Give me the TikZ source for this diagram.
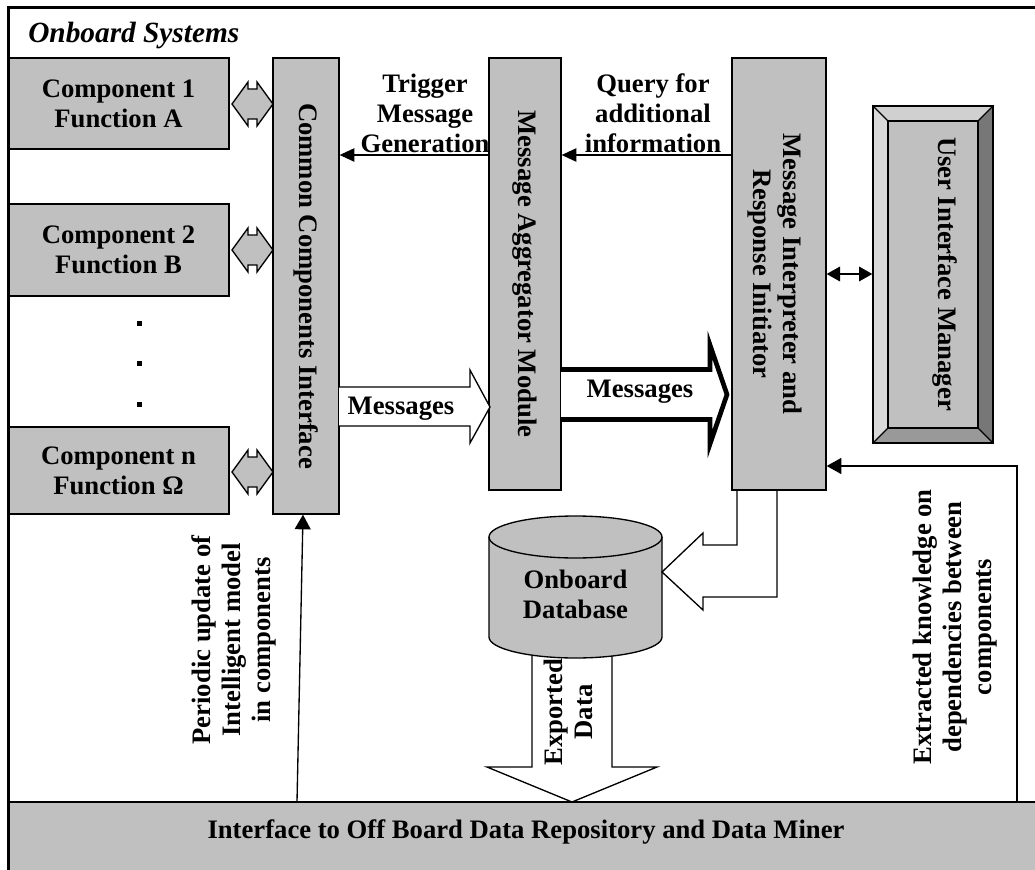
\documentclass[tikz,border=0pt]{standalone}
\usepackage{fontspec}
\setmainfont{Liberation Serif}
\usetikzlibrary{arrows.meta,calc}
\definecolor{boxgray}{HTML}{C0C0C0}
\definecolor{bevtop}{HTML}{D0D0D0}
\definecolor{bevleft}{HTML}{D9D9D9}
\definecolor{bevright}{HTML}{777777}
\definecolor{bevbot}{HTML}{999999}
\begin{document}
\begin{tikzpicture}[x=0.75pt,y=-0.75pt,
  font=\bfseries\fontsize{20}{22.5}\selectfont,
  box/.style={draw, line width=1pt, fill=boxgray, inner sep=0pt, align=center},
  sz/.style 2 args={minimum width=#1*0.75pt, minimum height=#2*0.75pt},
  lbl/.style={align=center, inner sep=0pt},
  conn/.style={line width=1pt, -{Triangle[length=11pt,width=10pt]}},
  dconn/.style={line width=1pt, {Triangle[length=10pt,width=11pt]}-{Triangle[length=10pt,width=11pt]}},
  block/.style={line width=1pt, fill=white},
  dbl/.style={line width=1pt, fill=boxgray},
  dot/.style={fill=black, inner sep=0pt, sz={5}{5}}
]
\useasboundingbox (0,0) rectangle (1035,870);

% bottom bar
\node[fill=boxgray, inner sep=0pt, sz={1027}{68}, anchor=north west] (bar) at (8,802) {};
\draw[line width=1pt] (bar.north west) -- (bar.north east);
\node[lbl] (bart) at (526,832) {Interface to Off Board Data Repository and Data Miner};

% title
\node[anchor=west, inner sep=0pt, font=\bfseries\itshape\fontsize{22}{24}\selectfont] (title) at (28,35) {Onboard Systems};

% components
\node[box, sz={221}{91}] (c1) at (118.5,103.5) {Component 1\\Function A};
\node[box, sz={221}{92}] (c2) at (118.5,250) {Component 2\\Function B};
\node[box, sz={221}{87}] (cn) at (118.5,470.5) {Component n\\Function Ω};
\node[dot] (d1) at (139,323) {};
\node[dot] (d2) at (139,363) {};
\node[dot] (d3) at (139,404) {};

% main vertical boxes
\node[box, sz={66}{456}] (cci) at (306,286) {};
\node[lbl, rotate=-90] (ccit) at (cci) {Common Components Interface};
\node[box, sz={72}{432}] (mam) at (525,274) {};
\node[lbl, rotate=-90] (mamt) at (mam) {Message Aggregator Module};
\node[box, sz={94}{432}] (miri) at (779,274) {};
\node[lbl, rotate=-90] (mirit) at (775,274) {Message Interpreter and\\Response Initiator};

% user interface manager (bevelled)
\fill[bevtop] (873,106) -- (993,106) -- (978,121) -- (888,121) -- cycle;
\fill[bevleft] (873,106) -- (888,121) -- (888,428) -- (873,443) -- cycle;
\fill[bevright] (993,106) -- (993,443) -- (978,428) -- (978,121) -- cycle;
\fill[bevbot] (873,443) -- (993,443) -- (978,428) -- (888,428) -- cycle;
\node[box, sz={90}{307}] (uimin) at (933,274.5) {};
\node[draw, line width=1pt, inner sep=0pt, sz={120}{337}] (uim) at (933,274.5) {};
\draw[line width=1pt] (uim.north west) -- (uimin.north west)
  (uim.north east) -- (uimin.north east)
  (uim.south west) -- (uimin.south west)
  (uim.south east) -- (uimin.south east);
\node[lbl, rotate=-90] (uimt) at (945,274) {User Interface Manager};
\draw[dconn] (miri.east) -- (miri.east -| uim.west);

% double arrows component <-> interface
\foreach \cy in {104,250,472}{
  \draw[dbl] (232,\cy) -- (248,\cy-22) -- (248,\cy-15) -- (257,\cy-15) -- (257,\cy-22)
    -- (273,\cy) -- (257,\cy+22) -- (257,\cy+15) -- (248,\cy+15) -- (248,\cy+22) -- cycle;
}

% trigger and query arrows
\coordinate (y155) at (0,155);
\draw[conn] (mam.west |- y155) -- (cci.east |- y155);
\draw[conn] (miri.west |- y155) -- (mam.east |- y155);
\node[lbl] (trig) at (425,113) {Trigger\\Message\\Generation};
\node[lbl] (query) at (653,113) {Query for\\additional\\information};

% messages block arrows
\draw[block] (339,387) -- (470,387) -- (470,370) -- (490,407) -- (470,443) -- (470,426) -- (339,426);
\node[lbl] (msg1) at (401,409) {Messages};
\draw[block, line width=3.5pt, line join=miter] (561,369.5) -- (710,369.5) -- (710,345) -- (727,394.5)
  -- (710,444) -- (710,419.5) -- (561,419.5);
\node[lbl] (msg2) at (640,392) {Messages};

% exported data arrow
\draw[block] (532,640) -- (532,767) -- (487,767) -- (572,802) -- (657,767) -- (612,767) -- (612,640);
\node[lbl, rotate=90] (expt) at (568,712) {Exported\\Data};

% database cylinder
\draw[line width=1pt, fill=boxgray] (489,537) -- (489,637)
  arc[start angle=180,end angle=360,x radius=64.875pt,y radius=15.75pt] -- (662,537)
  arc[start angle=0,end angle=180,x radius=64.875pt,y radius=15.75pt] -- cycle;
\draw[line width=1pt] (489,537) arc[start angle=180,end angle=360,x radius=64.875pt,y radius=15.75pt];
\node[lbl] (db) at (575.5,594) {Onboard\\Database};

% hollow bent arrow into database
\draw[line width=1pt] (737,490) -- (737,545) -- (703,545) -- (703,533) -- (662,572)
  -- (703,610) -- (703,597) -- (777,597) -- (777,490);

% periodic update arrow
\coordinate (pu0) at (297,802);
\draw[conn, -{Triangle[length=11pt,width=12pt]}] (pu0) -- ([xshift=-2.25pt]cci.south);
\node[lbl, rotate=90] (pert) at (234,640) {Periodic update of\\Intelligent model\\in components};

% extracted knowledge arrow
\coordinate (ex0) at (1017,802);
\coordinate (y466) at (0,466);
\draw[conn, -{Triangle[length=11pt,width=12pt]}] (ex0) |- (miri.east |- y466);
\node[lbl, rotate=90] (extt) at (955,627) {Extracted knowledge on\\dependencies between\\components};

% outer frame
\draw[line width=2.25pt] (1035,8) -- (8,8) -- (8,870);
\end{tikzpicture}
\end{document}
